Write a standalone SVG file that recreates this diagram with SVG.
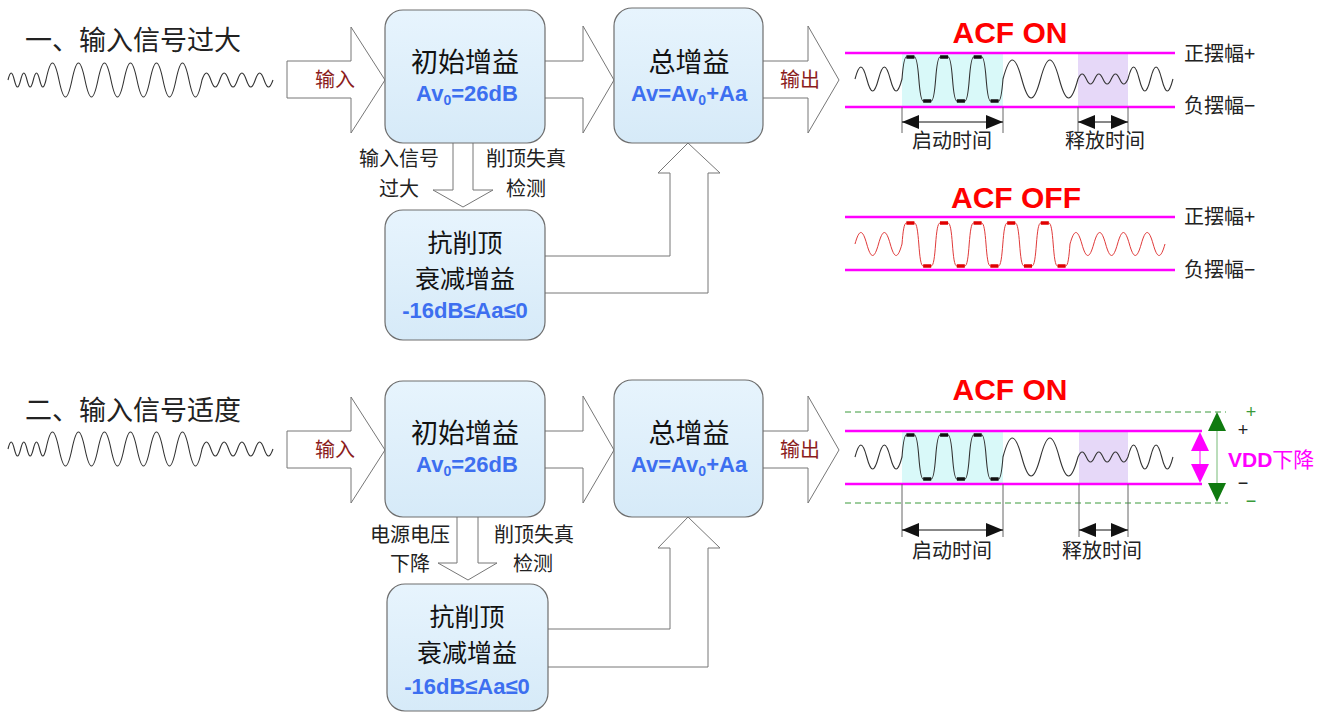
<svg xmlns="http://www.w3.org/2000/svg" xmlns:xlink="http://www.w3.org/1999/xlink" width="1324" height="713" viewBox="0 0 1324 713">
<style>
.box{fill:url(#bg);stroke:#6e6e6e;stroke-width:1.2}
.cn{font-family:"Noto Sans CJK SC","Liberation Sans",sans-serif;fill:#111}
.big{font-size:27px}
.mid{font-size:25px}
.title{font-size:27px;fill:#222}
.lab{font-size:20px;fill:#222}
.blue{font-family:"Liberation Sans",Arial,sans-serif;font-weight:bold;fill:#3d6ff0;font-size:22px}
.io{font-family:"Noto Sans CJK SC","Liberation Sans",sans-serif;font-size:20px;fill:#8b1c1c}
.acf{font-family:"Liberation Sans",Arial,sans-serif;font-weight:bold;fill:#ff0000;font-size:30px}
.arrow{fill:#fff;stroke:#777;stroke-width:1}
.mag{stroke:#ff00ff;stroke-width:2.5;fill:none}
.wave{fill:none;stroke:#333;stroke-width:1.1}
.rwave{fill:none;stroke:#e03a3a;stroke-width:1}
.flat{stroke:#111;stroke-width:3.5;fill:none}
.rflat{stroke:#e00000;stroke-width:3.5;fill:none}
.tick{stroke:#666;stroke-width:1}
.dim{stroke:#111;stroke-width:1;marker-start:url(#ah);marker-end:url(#ah)}
.dash{stroke:#3a9a3a;stroke-width:1;stroke-dasharray:6 4}
</style>
<defs>
<linearGradient id="bg" x1="0" y1="0" x2="0" y2="1">
<stop offset="0" stop-color="#e7f4fd"/>
<stop offset="1" stop-color="#d6eaf8"/>
</linearGradient>
<marker id="ah" markerUnits="userSpaceOnUse" markerWidth="17" markerHeight="14" refX="17" refY="7" orient="auto-start-reverse">
<path d="M0,0 L17,7 L0,14 Z" fill="#111"/>
</marker>
<path id="wl" class="wave" d="M8,80
c2.3,-9.33 4.03,-9.33 6.33,0 c2.3,9.33 4.03,9.33 6.33,0
c2.3,-9.33 4.03,-9.33 6.33,0 c2.3,9.33 4.03,9.33 6.33,0
c2.3,-9.33 4.03,-9.33 6.33,0 c2.3,9.33 4.03,9.33 6.33,0
c4.73,-22.67 8.27,-22.67 13,0 c4.73,22.67 8.27,22.67 13,0
c4.73,-22.67 8.27,-22.67 13,0 c4.73,22.67 8.27,22.67 13,0
c4.73,-22.67 8.27,-22.67 13,0 c4.73,22.67 8.27,22.67 13,0
c4.73,-22.67 8.27,-22.67 13,0 c4.73,22.67 8.27,22.67 13,0
c4.73,-22.67 8.27,-22.67 13,0 c4.73,22.67 8.27,22.67 13,0
c4.73,-22.67 8.27,-22.67 13,0 c4.73,22.67 8.27,22.67 13,0
c3.23,-9.33 5.64,-9.33 8.875,0 c3.23,9.33 5.64,9.33 8.875,0
c3.23,-9.33 5.64,-9.33 8.875,0 c3.23,9.33 5.64,9.33 8.875,0
c3.23,-9.33 5.64,-9.33 8.875,0 c3.23,9.33 5.64,9.33 8.875,0
c3.23,-9.33 5.64,-9.33 8.875,0 c3.23,9.33 5.64,9.33 8.875,0"/>
<g id="wr">
<path class="wave" d="M855,79
c4.28,-16 7.47,-16 11.75,0 c4.28,16 7.47,16 11.75,0
c4.28,-16 7.47,-16 11.75,0 c4.28,16 7.47,16 11.75,0
c1,-13 2,-22 4.415,-22 h8 c2.415,0 3.415,9 4.415,22 c1,13 2,22 4.415,22 h8 c2.415,0 3.415,-9 4.415,-22
c1,-13 2,-22 4.415,-22 h8 c2.415,0 3.415,9 4.415,22 c1,13 2,22 4.415,22 h8 c2.415,0 3.415,-9 4.415,-22
c1,-13 2,-22 4.415,-22 h8 c2.415,0 3.415,9 4.415,22 c1,13 2,22 4.415,22 h8 c2.415,0 3.415,-9 4.415,-22
c6.83,-25.33 11.92,-25.33 18.75,0 c6.83,25.33 11.92,25.33 18.75,0
c6.83,-25.33 11.92,-25.33 18.75,0 c6.83,25.33 11.92,25.33 18.75,0
c3.03,-6.67 5.3,-6.67 8.33,0 c3.03,6.67 5.3,6.67 8.33,0
c3.03,-6.67 5.3,-6.67 8.33,0 c3.03,6.67 5.3,6.67 8.33,0
c3.03,-6.67 5.3,-6.67 8.33,0 c3.03,6.67 5.3,6.67 8.33,0
c4.1,-16 7.15,-16 11.25,0 c4.1,16 7.15,16 11.25,0
c4.1,-16 7.15,-16 11.25,0 c4.1,16 7.15,16 11.25,0"/>
<path class="flat" d="M906.4,57 h8 M940.1,57 h8 M973.7,57 h8 M923.2,101 h8 M956.9,101 h8 M990.6,101 h8"/>
</g>
</defs>

<text class="cn title" x="25" y="50">一、输入信号过大</text>
<use href="#wl"/>
<text class="cn title" x="25" y="420">二、输入信号适度</text>
<use href="#wl" transform="translate(0,369)"/>

<g id="connectors">
<path class="arrow" d="M287,61 H351 V27 L385,80 L351,133 V98 H287 Z"/>
<path class="arrow" d="M545,61 H583 V26 L614,80 L583,133 V98 H545"/>
<path class="arrow" d="M763,61 H808 V26 L839,80 L808,133 V98 H763"/>
<path class="arrow" d="M453,143 V190 H433 L463,207 L493,190 H473 V143"/>
<path class="arrow" d="M545,256 H670 V173 H658 L688,143 L720,173 H708 V293 H545"/>
<path class="arrow" d="M287,431 H351 V397 L385,450 L351,503 V468 H287 Z"/>
<path class="arrow" d="M545,431 H583 V396 L614,450 L583,503 V468 H545"/>
<path class="arrow" d="M763,431 H808 V396 L839,450 L808,503 V468 H763"/>
<path class="arrow" d="M457,517 V563 H438 L468,580 L497,563 H478 V517"/>
<path class="arrow" d="M548,629 H670 V548 H658 L688,517 L720,548 H708 V667 H548"/>
<text class="io" x="335" y="87" text-anchor="middle">输入</text>
<text class="io" x="800" y="87" text-anchor="middle">输出</text>
<text class="io" x="335" y="457" text-anchor="middle">输入</text>
<text class="io" x="800" y="457" text-anchor="middle">输出</text>
<text class="cn lab" x="399" y="166" text-anchor="middle">输入信号</text>
<text class="cn lab" x="399" y="196" text-anchor="middle">过大</text>
<text class="cn lab" x="526" y="166" text-anchor="middle">削顶失真</text>
<text class="cn lab" x="526" y="196" text-anchor="middle">检测</text>
<text class="cn lab" x="410" y="542" text-anchor="middle">电源电压</text>
<text class="cn lab" x="410" y="571" text-anchor="middle">下降</text>
<text class="cn lab" x="534" y="542" text-anchor="middle">削顶失真</text>
<text class="cn lab" x="533" y="571" text-anchor="middle">检测</text>
</g>

<g id="init-gain-1">
<rect class="box" x="385" y="10" width="160" height="133" rx="18"/>
<text class="cn big" x="465" y="72" text-anchor="middle">初始增益</text>
<text class="blue" x="467" y="101" text-anchor="middle">Av<tspan font-size="14" dy="4">0</tspan><tspan dy="-4">=26dB</tspan></text>
</g>
<g id="total-gain-1">
<rect class="box" x="614" y="8" width="149" height="135" rx="18"/>
<text class="cn big" x="689" y="72" text-anchor="middle">总增益</text>
<text class="blue" x="689" y="101" text-anchor="middle">Av=Av<tspan font-size="14" dy="4">0</tspan><tspan dy="-4">+Aa</tspan></text>
</g>
<g id="anticlip-1">
<rect class="box" x="385" y="210" width="160" height="130" rx="18"/>
<text class="cn mid" x="465" y="252" text-anchor="middle">抗削顶</text>
<text class="cn mid" x="465" y="288" text-anchor="middle">衰减增益</text>
<text class="blue" x="465" y="318" text-anchor="middle">-16dB≤Aa≤0</text>
</g>
<g id="init-gain-2">
<rect class="box" x="385" y="381" width="160" height="136" rx="18"/>
<text class="cn big" x="465" y="443" text-anchor="middle">初始增益</text>
<text class="blue" x="467" y="472" text-anchor="middle">Av<tspan font-size="14" dy="4">0</tspan><tspan dy="-4">=26dB</tspan></text>
</g>
<g id="total-gain-2">
<rect class="box" x="614" y="380" width="149" height="137" rx="18"/>
<text class="cn big" x="689" y="443" text-anchor="middle">总增益</text>
<text class="blue" x="689" y="472" text-anchor="middle">Av=Av<tspan font-size="14" dy="4">0</tspan><tspan dy="-4">+Aa</tspan></text>
</g>
<g id="anticlip-2">
<rect class="box" x="387" y="584" width="161" height="127" rx="18"/>
<text class="cn mid" x="467" y="626" text-anchor="middle">抗削顶</text>
<text class="cn mid" x="467" y="662" text-anchor="middle">衰减增益</text>
<text class="blue" x="467" y="694" text-anchor="middle">-16dB≤Aa≤0</text>
</g>

<g id="acf-on-1">
<text class="acf" x="1010" y="43" text-anchor="middle">ACF ON</text>
<rect x="902" y="54" width="101" height="52" fill="#d9f9f9"/>
<rect x="1078" y="54" width="50" height="52" fill="#e6d8f8"/>
<line class="mag" x1="845" y1="53" x2="1175" y2="53"/>
<line class="mag" x1="845" y1="107" x2="1175" y2="107"/>
<use href="#wr"/>
<text class="cn lab" x="1184" y="61">正摆幅+</text>
<text class="cn lab" x="1184" y="113">负摆幅−</text>
<line class="tick" x1="902" y1="107" x2="902" y2="133"/>
<line class="tick" x1="1003" y1="107" x2="1003" y2="133"/>
<line class="tick" x1="1078" y1="107" x2="1078" y2="133"/>
<line class="tick" x1="1128" y1="107" x2="1128" y2="133"/>
<line class="dim" x1="902" y1="122" x2="1003" y2="122"/>
<line class="dim" x1="1078" y1="122" x2="1128" y2="122"/>
<text class="cn lab" x="952" y="148" text-anchor="middle">启动时间</text>
<text class="cn lab" x="1105" y="148" text-anchor="middle">释放时间</text>
</g>

<g id="acf-off">
<text class="acf" x="1016" y="208" text-anchor="middle">ACF OFF</text>
<line class="mag" x1="845" y1="217" x2="1175" y2="217"/>
<line class="mag" x1="845" y1="270" x2="1175" y2="270"/>
<path class="rwave" d="M855,244
c4.28,-15.33 7.47,-15.33 11.75,0 c4.28,15.33 7.47,15.33 11.75,0
c4.28,-15.33 7.47,-15.33 11.75,0 c4.28,15.33 7.47,15.33 11.75,0
c1,-12.5 2,-21 4.4,-21 h8 c2.4,0 3.4,8.5 4.4,21 c1,13 2,22 4.4,22 h8 c2.4,0 3.4,-9 4.4,-22
c1,-12.5 2,-21 4.4,-21 h8 c2.4,0 3.4,8.5 4.4,21 c1,13 2,22 4.4,22 h8 c2.4,0 3.4,-9 4.4,-22
c1,-12.5 2,-21 4.4,-21 h8 c2.4,0 3.4,8.5 4.4,21 c1,13 2,22 4.4,22 h8 c2.4,0 3.4,-9 4.4,-22
c1,-12.5 2,-21 4.4,-21 h8 c2.4,0 3.4,8.5 4.4,21 c1,13 2,22 4.4,22 h8 c2.4,0 3.4,-9 4.4,-22
c1,-12.5 2,-21 4.4,-21 h8 c2.4,0 3.4,8.5 4.4,21 c1,13 2,22 4.4,22 h8 c2.4,0 3.4,-9 4.4,-22
c4.32,-15.33 7.55,-15.33 11.875,0 c4.32,15.33 7.55,15.33 11.875,0
c4.32,-15.33 7.55,-15.33 11.875,0 c4.32,15.33 7.55,15.33 11.875,0
c4.32,-15.33 7.55,-15.33 11.875,0 c4.32,15.33 7.55,15.33 11.875,0
c4.32,-15.33 7.55,-15.33 11.875,0 c4.32,15.33 7.55,15.33 11.875,0"/>
<path class="rflat" d="M906.4,223 h8 M940,223 h8 M973.6,223 h8 M1007.2,223 h8 M1040.8,223 h8 M923.2,266 h8 M956.8,266 h8 M990.4,266 h8 M1024,266 h8 M1057.6,266 h8"/>
<text class="cn lab" x="1184" y="224">正摆幅+</text>
<text class="cn lab" x="1184" y="277">负摆幅−</text>
</g>

<g id="acf-on-2">
<text class="acf" x="1010" y="400" text-anchor="middle">ACF ON</text>
<line class="dash" x1="845" y1="412" x2="1226" y2="412"/>
<line class="dash" x1="845" y1="503" x2="1228" y2="503"/>
<rect x="902" y="432" width="101" height="51" fill="#d9f9f9"/>
<rect x="1079" y="432" width="49" height="51" fill="#e6d8f8"/>
<line class="mag" x1="845" y1="431" x2="1202" y2="431"/>
<line class="mag" x1="845" y1="484" x2="1202" y2="484"/>
<use href="#wr" transform="translate(0,378)"/>
<line stroke="#ff00ff" stroke-width="1" x1="1200" y1="440" x2="1200" y2="475"/>
<polygon points="1200,432 1191,451 1209,451" fill="#ff00ff"/>
<polygon points="1200,483 1191,464 1209,464" fill="#ff00ff"/>
<line stroke="#77bb77" stroke-width="1" x1="1217" y1="420" x2="1217" y2="494"/>
<polygon points="1217,412 1208,431 1226,431" fill="#0f7a0f"/>
<polygon points="1217,502 1208,483 1226,483" fill="#0f7a0f"/>
<text font-family="Liberation Sans,sans-serif" font-size="18" fill="#3a9a3a" x="1251" y="418" text-anchor="middle">+</text>
<text font-family="Liberation Sans,sans-serif" font-size="18" fill="#222" x="1243" y="436" text-anchor="middle">+</text>
<text font-family="Liberation Sans,sans-serif" font-size="18" fill="#222" x="1243" y="489" text-anchor="middle">−</text>
<text font-family="Liberation Sans,sans-serif" font-size="18" fill="#3a9a3a" x="1251" y="507" text-anchor="middle">−</text>
<text x="1228" y="467" fill="#ff00ff" font-size="21"><tspan font-family="Liberation Sans,sans-serif" font-weight="bold">VDD</tspan><tspan font-family="Noto Sans CJK SC,sans-serif">下降</tspan></text>
<line class="tick" x1="902" y1="484" x2="902" y2="537"/>
<line class="tick" x1="1003" y1="484" x2="1003" y2="537"/>
<line class="tick" x1="1079" y1="484" x2="1079" y2="537"/>
<line class="tick" x1="1128" y1="484" x2="1128" y2="537"/>
<line class="dim" x1="902" y1="530" x2="1003" y2="530"/>
<line class="dim" x1="1079" y1="530" x2="1128" y2="530"/>
<text class="cn lab" x="952" y="558" text-anchor="middle">启动时间</text>
<text class="cn lab" x="1102" y="558" text-anchor="middle">释放时间</text>
</g>
</svg>
